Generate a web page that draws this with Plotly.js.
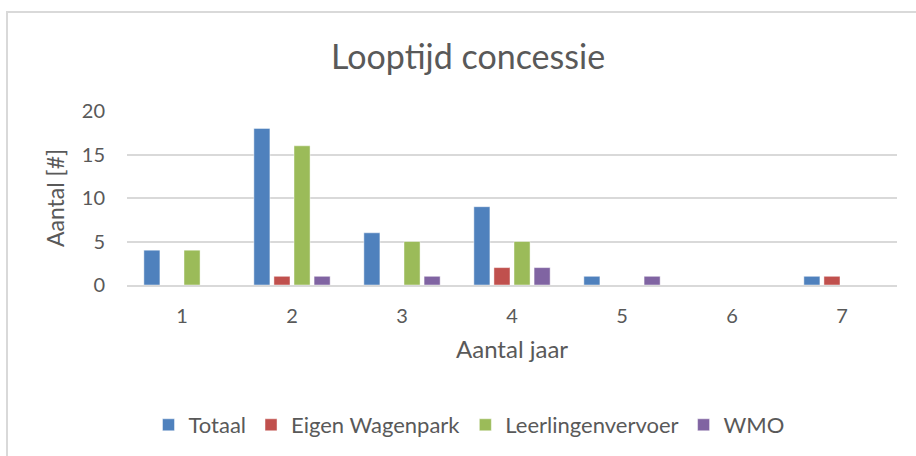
<!DOCTYPE html>
<html>
<head>
<meta charset="utf-8">
<script src="https://cdn.plot.ly/plotly-3.0.1.min.js"></script>
<style>
  html, body { margin: 0; padding: 0; background: #ffffff; }
  #wrap { position: relative; width: 916px; height: 456px; overflow: hidden; }
  #chart { position: absolute; left: 0; top: 0; width: 916px; height: 456px; }
  #frame { position: absolute; left: 6px; top: 11px; width: 940px; height: 470px;
           border-top: 2px solid #d9d9d9; border-left: 2px solid #d9d9d9; pointer-events: none; }
</style>
</head>
<body>
<div id="wrap">
  <div id="chart"></div>
  <div id="frame"></div>
</div>
<script>
const categories = ['1', '2', '3', '4', '5', '6', '7'];
const seriesNames = ['Totaal', 'Eigen Wagenpark', 'Leerlingenvervoer', 'WMO'];
const totaal = [4, 18, 6, 9, 1, 0, 1];
const eigenWagenpark = [0, 1, 0, 2, 0, 0, 1];
const leerlingenvervoer = [4, 16, 5, 5, 0, 0, 0];
const wmo = [0, 1, 1, 2, 1, 0, 0];
const yTicks = [0, 5, 10, 15, 20];

const colors = ['#4F81BD', '#C0504D', '#9BBB59', '#8064A2'];
const values = [totaal, eigenWagenpark, leerlingenvervoer, wmo];

const FONT = 'Lato, "Open Sans", "Liberation Sans", sans-serif';
const GREY = '#595959';

const traces = values.map((v, i) => ({
  type: 'bar',
  name: seriesNames[i],
  x: categories,
  y: v,
  marker: { color: colors[i], line: { color: 'rgba(255,255,255,0.45)', width: 1 } },
  hoverinfo: 'x+y+name'
}));

const layout = {
  width: 916,
  height: 456,
  margin: { l: 127, r: 19, t: 111, b: 171, pad: 0 },
  paper_bgcolor: 'rgba(0,0,0,0)',
  plot_bgcolor: 'rgba(0,0,0,0)',
  font: { family: FONT, color: GREY, size: 18 },
  title: {
    text: 'Looptijd concessie',
    font: { family: FONT, size: 34, color: GREY },
    x: 0.511, xanchor: 'center', xref: 'container',
    y: 0.875, yanchor: 'middle', yref: 'container'
  },
  barmode: 'group',
  bargap: 0.27,
  bargroupgap: 0.2,
  xaxis: {
    type: 'category',
    showgrid: false,
    showline: true,
    linecolor: '#d9d9d9',
    linewidth: 2,
    ticks: '',
    ticklabelstandoff: 12,
    tickfont: { family: FONT, size: 20, color: GREY },
    zeroline: false,
    title: { text: 'Aantal jaar', font: { family: FONT, size: 24, color: GREY }, standoff: 15 }
  },
  yaxis: {
    range: [0, 20],
    tickvals: yTicks,
    ticktext: yTicks.map(String),
    showgrid: true,
    gridcolor: '#d9d9d9',
    gridwidth: 2,
    zeroline: false,
    showline: false,
    ticks: '',
    ticklabelstandoff: 21,
    tickfont: { family: FONT, size: 20, color: GREY },
    title: { text: 'Aantal [#]', font: { family: FONT, size: 23, color: GREY }, standoff: 10 }
  },
  legend: {
    orientation: 'h',
    x: 0.512, xanchor: 'center', xref: 'container',
    y: 0.068, yanchor: 'middle', yref: 'container',
    font: { family: FONT, size: 22, color: GREY },
    itemwidth: 30,
    traceorder: 'normal',
    bgcolor: 'rgba(0,0,0,0)'
  },
  showlegend: true
};

Plotly.newPlot('chart', traces, layout, { displayModeBar: false, staticPlot: true });
</script>
</body>
</html>
